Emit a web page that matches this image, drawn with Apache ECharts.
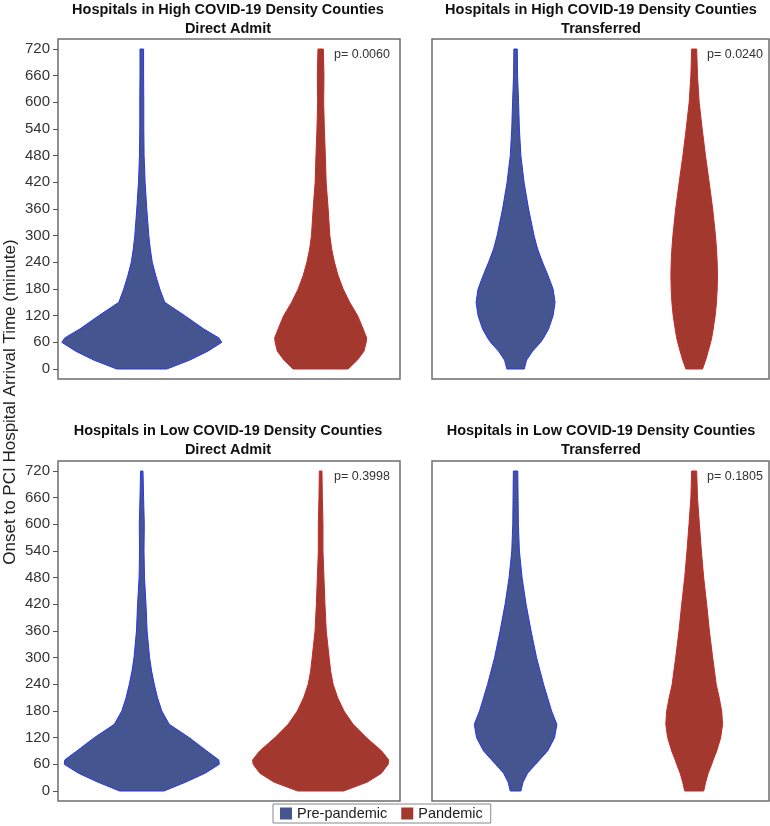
<!DOCTYPE html>
<html>
<head>
<meta charset="utf-8">
<script src="https://cdn.jsdelivr.net/npm/echarts@6/dist/echarts.min.js"></script>
<style>
html,body{margin:0;padding:0;background:#fff;}
#chart{width:770px;height:826px;}
</style>
</head>
<body>
<div id="chart"></div>
<script>
// ---- Data ----
const Y_LEVELS = [0,20,40,60,70,90,120,150,180,210,240,270,300,360,420,480,540,600,660,720];
const Y_TICKS = [0,60,120,180,240,300,360,420,480,540,600,660,720];
// half-widths of each violin (relative density) at Y_LEVELS
const HIGH_DIRECT_PRE = [25,48,66,80,77,62,43,23,18,14,10.5,8.5,7,5,3.3,2.3,2,2,1.8,1.8];
const HIGH_DIRECT_PAN = [27.5,36.7,43.3,45.5,46,42.5,37,29,22.5,17.5,13.8,11,9.2,7.5,5.5,4.7,3.7,3,3.3,2.7];
const HIGH_TRANS_PRE  = [8.7,11,17,25,28,33,37.5,39.5,37.5,32.5,27,22,18.5,13,8.5,5.3,3.8,3,2,1.7];
const HIGH_TRANS_PAN  = [8.3,11.5,14,16.5,17.5,19,21,22.3,23,23.3,23,22.3,21.3,18.5,15,11.3,8,5,3.3,2.5];
const LOW_DIRECT_PRE  = [22.2,44,63.3,77.5,77,65,47.5,27.5,20,15.7,12.5,9.8,7.8,5.3,4.2,2.7,2.2,2.5,1.8,1.2];
const LOW_DIRECT_PAN  = [23,46.7,60.8,67.5,68,61,45.8,32.5,23.3,17,12.5,10,8.5,5.6,4.3,3.3,2.3,2.3,1.7,1.3];
const LOW_TRANS_PRE   = [5.3,7.5,12,20,24,32,39,41.3,36,32,28,24.5,21,15.5,10.5,6.5,3.8,2.8,2.5,2.2];
const LOW_TRANS_PAN   = [9.5,11.5,14,17.5,19,22.5,26.5,28.4,27.5,25,22,20.3,18.5,15.2,12.5,9.5,7.2,5.2,3.3,2.5];
const GROUPS = ['Pre-pandemic','Pandemic'];
const PANEL_TITLES = [
  'Hospitals in High COVID-19 Density Counties\nDirect Admit',
  'Hospitals in High COVID-19 Density Counties\nTransferred',
  'Hospitals in Low COVID-19 Density Counties\nDirect Admit',
  'Hospitals in Low COVID-19 Density Counties\nTransferred'
];
const P_VALUES = ['p= 0.0060','p= 0.0240','p= 0.3998','p= 0.1805'];

// ---- Layout / style ----
const FONT = '"Liberation Sans", Arial, Helvetica, sans-serif';
const FILL = ['#44558f','#a3392e'];
const EDGE = ['#2a35ee','#c42a2a'];
const grids = [
  {left:58, top:39, width:342, height:340},
  {left:432, top:39, width:337, height:340},
  {left:58, top:461, width:342, height:340},
  {left:432, top:461, width:337, height:340}
];
const panelData = [
  [HIGH_DIRECT_PRE, HIGH_DIRECT_PAN],
  [HIGH_TRANS_PRE, HIGH_TRANS_PAN],
  [LOW_DIRECT_PRE, LOW_DIRECT_PAN],
  [LOW_TRANS_PRE, LOW_TRANS_PAN]
];
const centers = [[24.5,76.8],[24.8,77.8],[24.5,76.8],[24.8,77.8]];

const xAxes = grids.map((g,i)=>({gridIndex:i,type:'value',min:0,max:100,show:false}));
const yAxes = grids.map((g,i)=>({
  gridIndex:i, type:'value', min:-22.5, max:742.5,
  axisLine:{show:false},
  splitLine:{show:false},
  axisTick:{show:i%2===0, customValues:Y_TICKS, length:5, lineStyle:{color:'#555',width:1}},
  axisLabel:{show:i%2===0, customValues:Y_TICKS, margin:8, fontSize:15, color:'#333', fontFamily:FONT}
}));

const series = [];
panelData.forEach((pair,pi)=>{
  const k = 100/grids[pi].width;
  pair.forEach((widths,gi)=>{
    const c = centers[pi][gi];
    series.push({
      type:'custom', name:GROUPS[gi], xAxisIndex:pi, yAxisIndex:pi,
      itemStyle:{color:FILL[gi]},
      data:[[c,0]],
      clip:false,
      renderItem:function(params, api){
        const pts=[];
        for(let i=0;i<Y_LEVELS.length;i++) pts.push(api.coord([c+widths[i]*k, Y_LEVELS[i]]));
        for(let i=Y_LEVELS.length-1;i>=0;i--) pts.push(api.coord([c-widths[i]*k, Y_LEVELS[i]]));
        return {type:'polygon', shape:{points:pts}, style:{fill:FILL[gi], stroke:EDGE[gi], lineWidth:1}};
      }
    });
  });
});

const graphics = [];
const titleX = [228, 601, 228, 601];
const titleY = [0, 0, 421, 421];
PANEL_TITLES.forEach((t,i)=>{
  graphics.push({type:'text', x:titleX[i], y:titleY[i], style:{text:t, align:'center', verticalAlign:'top',
    fontSize:14.5, fontWeight:'bold', lineHeight:19, fontFamily:FONT, fill:'#111'}});
});
const pX = [334, 707, 334, 707];
const pY = [55, 55, 477, 477];
P_VALUES.forEach((t,i)=>{
  graphics.push({type:'text', x:pX[i], y:pY[i], style:{text:t, align:'left', verticalAlign:'middle',
    fontSize:12.5, fontFamily:FONT, fill:'#333'}});
});
graphics.push({type:'text', x:10, y:402, rotation:Math.PI/2, style:{text:'Onset to PCI Hospital Arrival Time (minute)',
  align:'center', verticalAlign:'middle', fontSize:17, fontFamily:FONT, fill:'#222'}});

const chart = echarts.init(document.getElementById('chart'), null, {renderer:'canvas'});
chart.setOption({
  animation:false,
  backgroundColor:'#fff',
  grid: grids.map(g=>Object.assign({show:true, borderColor:'#6e6e6e', borderWidth:1.5, backgroundColor:'#fff', outerBoundsMode:'none', containLabel:false}, g)),
  xAxis:xAxes,
  yAxis:yAxes,
  legend:{
    data:GROUPS, left:273, top:804, orient:'horizontal', icon:'rect', itemWidth:12, itemHeight:12, itemGap:14,
    borderColor:'#888', borderWidth:1, padding:[2,8,2,7], selectedMode:false,
    textStyle:{fontSize:14.5, color:'#222', fontFamily:FONT}
  },
  graphic:graphics,
  series:series
});
</script>
</body>
</html>
